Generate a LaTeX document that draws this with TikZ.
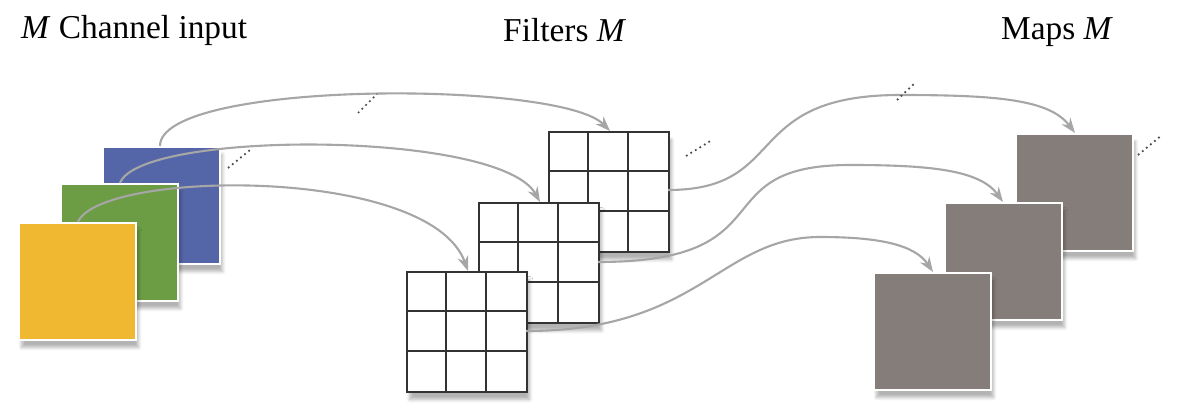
\documentclass[tikz,border=0pt]{standalone}
\usepackage{fontspec}
\setmainfont{Liberation Serif}
\usetikzlibrary{arrows.meta,shadows.blur}
\begin{document}
\begin{tikzpicture}[x=0.02cm,y=-0.02cm,
  sq/.style={draw=white,line width=1.2pt,minimum size=2.34cm,inner sep=0pt,anchor=north west,blur shadow={shadow xshift=0.5mm,shadow yshift=-1.5mm,shadow blur steps=6,shadow opacity=30}},
  flt/.style={draw=black!80,fill=white,line width=1.3pt,minimum size=2.4cm,inner sep=0pt,anchor=north west,blur shadow={shadow xshift=0.5mm,shadow yshift=-1.5mm,shadow blur steps=6,shadow opacity=30}},
  arr/.style={draw=black!35,line width=1.2pt,-{Stealth[length=3mm,width=2.2mm]}},
  dots/.style={draw=black!70,line width=1pt,dotted},
  lbl/.style={font=\fontsize{19}{22}\selectfont,anchor=west}]
\useasboundingbox (0,0) rectangle (1200,405);
\definecolor{cb}{HTML}{5566A8}\definecolor{cg}{HTML}{6C9C44}\definecolor{cy}{HTML}{F0B830}\definecolor{cm}{HTML}{857D79}
\node[lbl] (t1) at (15,30) {\textit{M} Channel input};
\node[lbl] (t2) at (497,30) {Filters \textit{M}};
\node[lbl] (t3) at (995,32) {Maps \textit{M}};
% inputs
\node[sq,fill=cb] (b) at (102,146) {};
\node[sq,fill=cg] (g) at (60,183) {};
\node[sq,fill=cy] (y) at (18,222) {};
% filters
\foreach \n/\x/\y in {f1/548/131,f2/478/202,f3/406/271}{
  \node[flt] (\n) at (\x,\y) {};
  \draw[black!80,line width=1.3pt] (\x+40,\y) -- (\x+40,\y+120) (\x+80,\y) -- (\x+80,\y+120)
     (\x,\y+40) -- (\x+120,\y+40) (\x,\y+80) -- (\x+120,\y+80);
}
% maps
\node[sq,fill=cm] (m1) at (1015,133) {};
\node[sq,fill=cm] (m2) at (944,202) {};
\node[sq,fill=cm] (m3) at (873,272) {};
% arrows input -> filters
\coordinate (s1) at (160,146); \coordinate (e1) at (610,131);
\coordinate (s2) at (120,183); \coordinate (e2) at (540,202);
\coordinate (s3) at (78,222); \coordinate (e3) at (468,271);
\draw[arr] (s1) .. controls (160,80) and (560,80) .. (e1);
\draw[arr] (s2) .. controls (140,130) and (500,130) .. (e2);
\draw[arr] (s3) .. controls (100,170) and (430,165) .. (e3);
% filters -> maps
\coordinate (a1) at (668,190); \coordinate (d1) at (1075,133);
\coordinate (a2) at (598,262); \coordinate (d2) at (1003,202);
\coordinate (a3) at (526,331); \coordinate (d3) at (933,272);
\draw[arr] (a1) .. controls (790,190) and (740,95) .. (900,95) .. controls (1000,95) and (1050,100) .. (d1);
\draw[arr] (a2) .. controls (790,262) and (700,165) .. (850,165) .. controls (930,165) and (980,170) .. (d2);
\draw[arr] (a3) .. controls (700,331) and (720,237) .. (820,237) .. controls (880,237) and (915,245) .. (d3);
% dots
\draw[dots] (358,113) -- (377,94);
\draw[dots] (228,168) -- (250,150);
\draw[dots] (686,156) -- (712,140);
\draw[dots] (897,100) -- (916,82);
\draw[dots] (1138,155) -- (1162,135);
\end{tikzpicture}
\end{document}
